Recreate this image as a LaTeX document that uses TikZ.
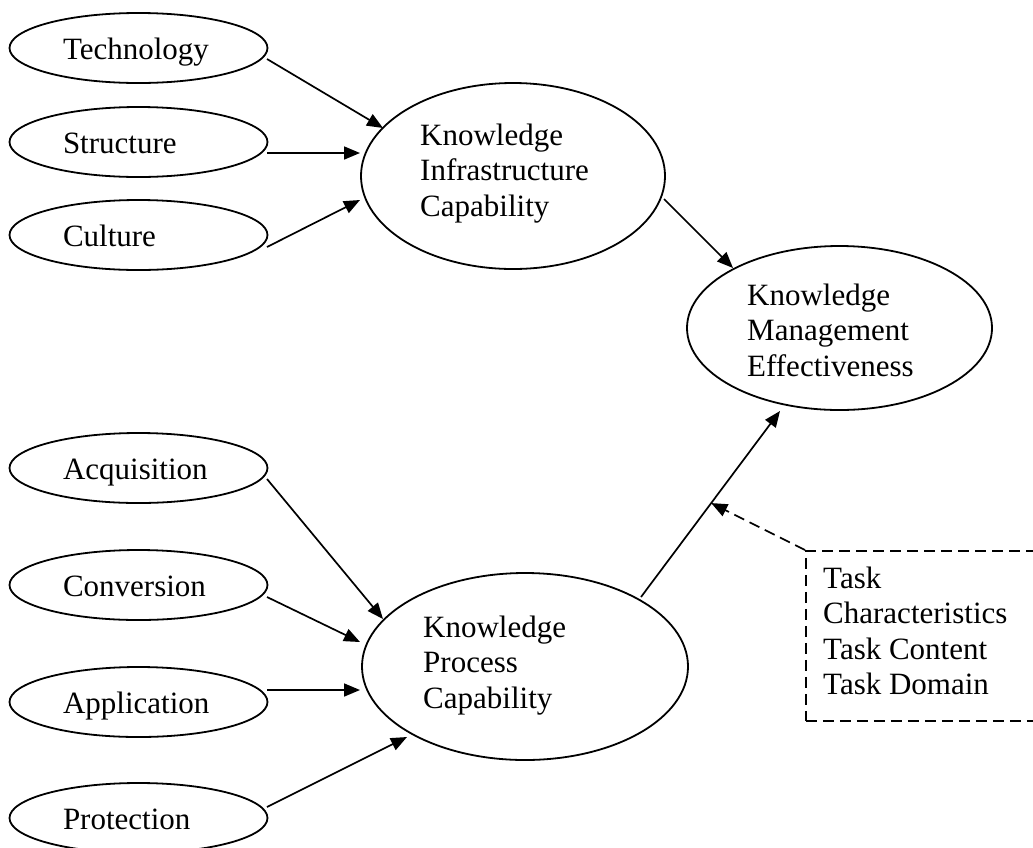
\documentclass[tikz,border=0pt]{standalone}
\usepackage{fontspec}
\setmainfont{Liberation Serif}
\usetikzlibrary{arrows.meta,calc,shapes.geometric}
\newcommand\lbllines[1]{\begin{tabular}[t]{@{}l@{}}#1\end{tabular}}
\begin{document}
\begin{tikzpicture}[x=1pt,y=-1pt,
  every node/.style={font=\fontsize{31}{35.5}\selectfont},
  factor/.style={ellipse, draw, line width=1.8pt, inner sep=0pt,
    minimum width=258pt, minimum height=70pt, text height=23pt, text depth=0pt},
  construct/.style={ellipse, draw, line width=1.8pt, inner sep=0pt},
  caption/.style={anchor=base west, inner sep=0pt},
  link/.style={line width=1.7pt, -{Triangle[length=16pt,width=13pt]}},
  moderator/.style={line width=1.7pt, dash pattern=on 11pt off 6pt},
]
\clip (0,0) rectangle (1033,847);

% infrastructure factors
\node[factor] (tech) at (138.5,48)  {\makebox[151pt][l]{Technology}};
\node[factor] (stru) at (138.5,142) {\makebox[151pt][l]{Structure}};
\node[factor] (cult) at (138.5,235) {\makebox[151pt][l]{Culture}};

% process factors
\node[factor] (acq)  at (138.5,468) {\makebox[151pt][l]{Acquisition}};
\node[factor] (conv) at (138.5,585) {\makebox[151pt][l]{Conversion}};
\node[factor] (appl) at (138.5,702) {\makebox[151pt][l]{Application}};
\node[factor] (prot) at (138.5,818) {\makebox[151pt][l]{Protection}};

% capabilities and outcome
\node[construct, minimum width=304pt, minimum height=186pt] (kic) at (513,176) {};
\node[caption] (kict) at (420,145) {\lbllines{Knowledge\\Infrastructure\\Capability}};
\node[construct, minimum width=326pt, minimum height=187pt] (kpc) at (525,666.5) {};
\node[caption] (kpct) at (423,637) {\lbllines{Knowledge\\Process\\Capability}};
\node[construct, minimum width=305pt, minimum height=164pt] (kme) at (839.5,328) {};
\node[caption] (kmet) at (747,305) {\lbllines{Knowledge\\Management\\Effectiveness}};

% moderator box
\node[moderator, draw, rectangle, anchor=north west, inner sep=0pt,
  minimum width=260pt, minimum height=170pt] (task) at (805,550) {};
\node[caption] (taskt) at (823,588) {\lbllines{Task\\Characteristics\\Task Content\\Task Domain}};

% paths into the infrastructure capability
\draw[link] ($(tech.center)+(128.5,11)$) -- ($(kic.center)+(-130,-48)$);
\draw[link] ($(stru.center)+(128.5,11)$) -- ($(kic.center)+(-153,-23)$);
\draw[link] ($(cult.center)+(128.5,12)$) -- ($(kic.center)+(-153,24)$);

% paths into the process capability
\draw[link] ($(acq.center)+(128.5,11)$)   -- ($(kpc.center)+(-142,-47.5)$);
\draw[link] ($(conv.center)+(128.5,12)$)  -- ($(kpc.center)+(-165,-24.5)$);
\draw[link] ($(appl.center)+(128.5,-12)$) -- ($(kpc.center)+(-165,23.5)$);
\draw[link] ($(prot.center)+(128.5,-11)$) -- ($(kpc.center)+(-118,70.5)$);

% capabilities to effectiveness
\draw[link] ($(kic.center)+(151,23)$) -- ($(kme.center)+(-106.5,-60)$);
\draw[link] ($(kpc.center)+(116,-69.5)$) -- coordinate[pos=0.505] (mod) ($(kme.center)+(-59.5,83)$);

% moderating effect
\draw[moderator, -{Triangle[length=16pt,width=13pt]}] (task.north west) -- (mod);
\end{tikzpicture}
\end{document}
